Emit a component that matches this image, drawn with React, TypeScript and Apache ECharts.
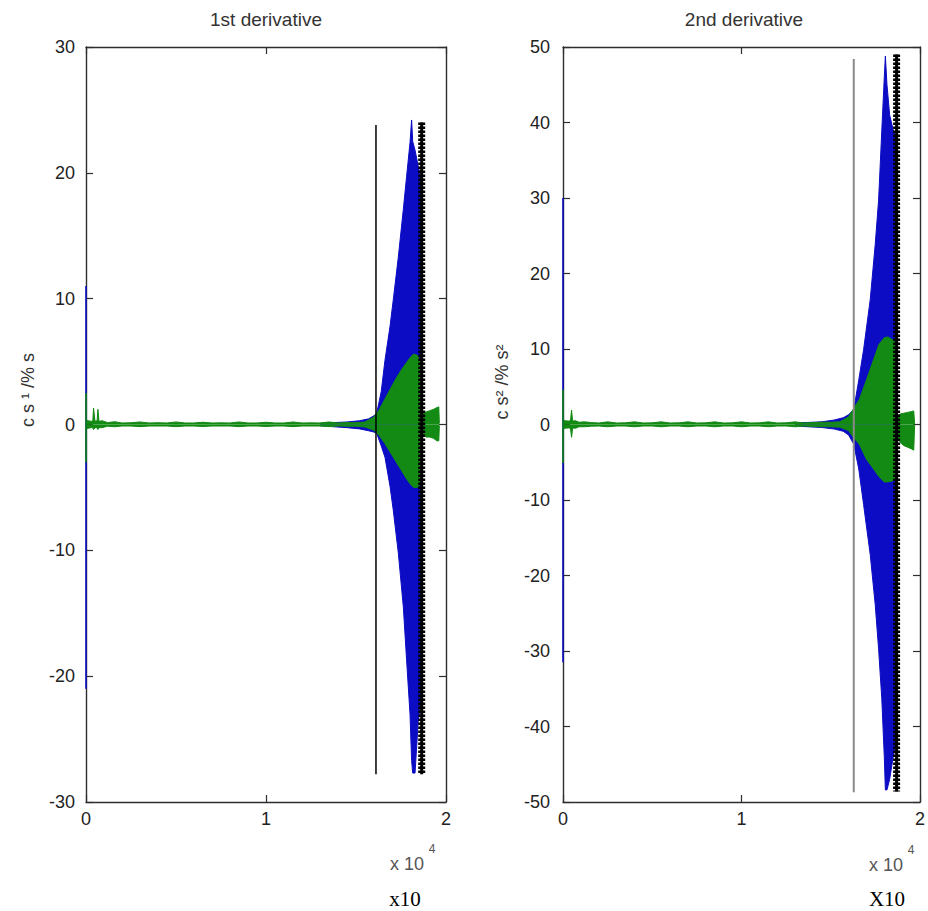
import { useEffect, useRef } from "react";
import * as echarts from "echarts";

// ---------- axes ----------
const xTickValues = [0, 1, 2];
const leftYRange = [-30, 30];
const rightYRange = [-50, 50];
const yInterval = 10;

// ---------- titles / labels ----------
const titles = ["1st derivative", "2nd derivative"];
const yNames = ["c s \u00b9 /% s", "c s\u00b2 /% s\u00b2"];
const expLabels = ["x 10", "x 10"];
const expPowers = ["4", "4"];
const bottomLabels = ["x10", "X10"];

// ---------- 1st derivative (x in units of 10^4) ----------
const blueX1 = [1.30, 1.45, 1.52, 1.57, 1.60, 1.615, 1.64, 1.661, 1.689, 1.707, 1.735, 1.763, 1.781, 1.80, 1.809, 1.815, 1.828, 1.846, 1.862];
const blueUp1 = [0.1, 0.2, 0.3, 0.45, 0.7, 0.9, 2.6, 5.1, 7.8, 9.9, 13.3, 17.1, 19.7, 22.4, 24.2, 22.5, 21.8, 20.5, 19.5];
const blueLo1 = [-0.1, -0.25, -0.35, -0.5, -0.6, -0.7, -1.7, -2.6, -4.9, -6.8, -10.2, -14.5, -18.7, -23.0, -26.7, -27.7, -27.7, -23.5, -22.0];

const greenX1 = [0.000, 0.010, 0.030, 0.038, 0.042, 0.050, 0.062, 0.066, 0.072, 0.09,
  0.12, 0.16, 0.20, 0.25, 0.30, 0.35, 0.40, 0.45, 0.50, 0.55,
  0.60, 0.65, 0.70, 0.75, 0.80, 0.85, 0.90, 0.95, 1.00, 1.05,
  1.10, 1.15, 1.20, 1.25, 1.30, 1.35, 1.40, 1.45, 1.50, 1.55,
  1.60, 1.63, 1.66, 1.69, 1.72, 1.75, 1.78, 1.80, 1.82, 1.84,
  1.855, 1.862, 1.868, 1.89, 1.91, 1.93, 1.95, 1.96, 1.963];
const greenUp1 = [0.4, 0.3, 0.25, 0.3, 1.3, 0.25, 0.3, 1.2, 0.25, 0.3,
  0.15, 0.22, 0.12, 0.14, 0.2, 0.12, 0.14, 0.12, 0.2, 0.12,
  0.12, 0.18, 0.12, 0.13, 0.12, 0.2, 0.12, 0.12, 0.18, 0.12,
  0.12, 0.2, 0.12, 0.13, 0.12, 0.2, 0.12, 0.15, 0.14, 0.2,
  0.6, 1.2, 2.0, 2.8, 3.6, 4.3, 4.9, 5.3, 5.6, 5.5,
  5.1, 0.6, 0.9, 1.0, 1.1, 1.2, 1.35, 1.4, 0.1];
const greenLo1 = [-0.4, -0.3, -0.25, -0.25, -0.4, -0.25, -0.25, -0.4, -0.25, -0.25,
  -0.13, -0.18, -0.12, -0.12, -0.17, -0.12, -0.12, -0.12, -0.17, -0.12,
  -0.12, -0.16, -0.12, -0.12, -0.12, -0.17, -0.12, -0.12, -0.16, -0.12,
  -0.12, -0.17, -0.12, -0.12, -0.12, -0.17, -0.12, -0.14, -0.14, -0.2,
  -0.45, -0.9, -1.5, -2.2, -2.9, -3.6, -4.3, -4.7, -5.0, -5.0,
  -4.8, -0.5, -0.8, -1.0, -1.0, -1.1, -1.3, -1.3, -0.1];

const spikeBlue1 = [11, -21];
const spikeGreen1 = [2.5, -3];
const vline1 = { x: 1.611, y: [23.8, -27.8] };
const markers1 = { x: 1.865, y: [24, -27.8] };

// ---------- 2nd derivative ----------
const blueX2 = [1.30, 1.45, 1.52, 1.57, 1.60, 1.629, 1.657, 1.684, 1.721, 1.749, 1.768, 1.786, 1.80, 1.806, 1.815, 1.83, 1.85, 1.868];
const blueUp2 = [0.2, 0.35, 0.6, 0.9, 1.3, 2.0, 5.9, 9.9, 16.5, 23.8, 29.7, 38.9, 46.0, 48.8, 45.0, 41.0, 39.0, 38.0];
const blueLo2 = [-0.2, -0.4, -0.6, -0.9, -1.4, -2.6, -5.9, -10.6, -17.2, -23.8, -29.7, -36.3, -44.0, -48.4, -48.4, -47.0, -44.0, -42.0];

const greenX2 = [0.000, 0.010, 0.030, 0.042, 0.048, 0.054, 0.07, 0.09, 0.12, 0.16,
  0.20, 0.25, 0.30, 0.35, 0.40, 0.45, 0.50, 0.55, 0.60, 0.65,
  0.70, 0.75, 0.80, 0.85, 0.90, 0.95, 1.00, 1.05, 1.10, 1.15,
  1.20, 1.25, 1.30, 1.35, 1.40, 1.45, 1.50, 1.55,
  1.60, 1.63, 1.66, 1.70, 1.74, 1.77, 1.80, 1.82, 1.84, 1.86,
  1.872, 1.878, 1.89, 1.91, 1.93, 1.95, 1.965, 1.97];
const greenUp2 = [0.7, 0.5, 0.45, 0.5, 1.9, 0.45, 0.5, 0.3, 0.35, 0.25,
  0.2, 0.35, 0.2, 0.22, 0.35, 0.2, 0.22, 0.35, 0.2, 0.22,
  0.35, 0.2, 0.22, 0.35, 0.2, 0.22, 0.35, 0.2, 0.22, 0.35,
  0.2, 0.22, 0.35, 0.2, 0.25, 0.3, 0.3, 0.35,
  1.0, 2.2, 3.3, 5.9, 8.6, 10.6, 11.5, 11.6, 11.3, 11.0,
  0.8, 1.2, 1.4, 1.5, 1.6, 1.7, 1.8, 0.1];
const greenLo2 = [-0.7, -0.5, -0.45, -0.5, -1.7, -0.45, -0.5, -0.3, -0.3, -0.22,
  -0.2, -0.3, -0.2, -0.2, -0.3, -0.2, -0.2, -0.3, -0.2, -0.2,
  -0.3, -0.2, -0.2, -0.3, -0.2, -0.2, -0.3, -0.2, -0.2, -0.3,
  -0.2, -0.2, -0.3, -0.2, -0.25, -0.3, -0.3, -0.35,
  -0.8, -1.8, -2.6, -4.6, -5.9, -6.9, -7.6, -7.6, -7.5, -7.3,
  -1.0, -1.8, -2.4, -2.8, -3.0, -3.2, -3.4, -0.1];

const spikeBlue2 = [30, -31.5];
const spikeGreen2 = [4.6, -5.1];
const vline2 = { x: 1.629, y: [48.4, -48.7] };
const markers2 = { x: 1.869, y: [49, -48.6] };

// ---------- styles ----------
const BLUE = "#0c0cc4";
const GREEN = "#138a13";
const AXIS = "#2e2e2e";
const FONT = "Liberation Sans, Arial, sans-serif";

function pairs(xs: number[], ys: number[]) {
  return xs.map((x, i) => [x, ys[i]]);
}

function band(xs: number[], ys: number[], color: string, ax: number, z: number) {
  return {
    type: "line",
    xAxisIndex: ax,
    yAxisIndex: ax,
    data: pairs(xs, ys),
    symbol: "none",
    showSymbol: false,
    lineStyle: { color, width: 1 },
    areaStyle: { color, opacity: 1 },
    z,
    silent: true,
  };
}

function vseg(x: number, ys: number[], color: string, width: number, ax: number, z: number, type: any = "solid") {
  return {
    type: "line",
    xAxisIndex: ax,
    yAxisIndex: ax,
    data: [[x, ys[0]], [x, ys[1]]],
    symbol: "none",
    showSymbol: false,
    clip: false,
    lineStyle: { color, width, type, cap: "butt" },
    z,
    silent: true,
  };
}

function xAx(grid: number, position: string, showLabel: boolean) {
  return {
    type: "value",
    gridIndex: grid,
    position,
    min: xTickValues[0],
    max: xTickValues[xTickValues.length - 1],
    interval: 1,
    axisLine: { show: true, onZero: false, lineStyle: { color: AXIS, width: 1.4 } },
    axisTick: { show: true, inside: true, length: 7, lineStyle: { color: AXIS, width: 1.2 } },
    axisLabel: { show: showLabel, fontSize: 18, color: "#222", margin: 8, fontFamily: FONT },
    splitLine: { show: false },
  };
}

function yAx(grid: number, position: string, range: number[], showLabel: boolean, margin: number) {
  return {
    type: "value",
    gridIndex: grid,
    position,
    min: range[0],
    max: range[1],
    interval: yInterval,
    axisLine: { show: true, onZero: false, lineStyle: { color: AXIS, width: 1.4 } },
    axisTick: { show: true, inside: true, length: 7, lineStyle: { color: AXIS, width: 1.2 } },
    axisLabel: { show: showLabel, fontSize: 18, color: "#222", margin, fontFamily: FONT },
    splitLine: { show: false },
  };
}

export default function App() {
  const ref = useRef<HTMLDivElement>(null);

  useEffect(() => {
    if (!ref.current) return;
    document.body.style.margin = "0";
    const chart = echarts.init(ref.current, null, { renderer: "svg" });

    const option: any = {
      animation: false,
      backgroundColor: "#ffffff",
      grid: [
        { left: 86, right: 482, top: 47, bottom: 109 },
        { left: 563, right: 4, top: 47, bottom: 109 },
      ],
      xAxis: [
        xAx(0, "bottom", true),
        xAx(0, "top", false),
        xAx(1, "bottom", true),
        xAx(1, "top", false),
      ],
      yAxis: [
        yAx(0, "left", leftYRange, true, 11),
        yAx(0, "right", leftYRange, false, 8),
        yAx(1, "left", rightYRange, true, 13),
        yAx(1, "right", rightYRange, false, 8),
      ],
      series: [
        // left chart (axes 0)
        band(blueX1, blueUp1, BLUE, 0, 2),
        band(blueX1, blueLo1, BLUE, 0, 2),
        band(greenX1, greenUp1, GREEN, 0, 3),
        band(greenX1, greenLo1, GREEN, 0, 3),
        vseg(0, spikeBlue1, BLUE, 1.6, 0, 4),
        vseg(0, spikeGreen1, GREEN, 1.6, 0, 5),
        vseg(vline1.x, vline1.y, "#000000", 1.5, 0, 6),
        vseg(markers1.x, markers1.y, "#000000", 3, 0, 7),
        vseg(markers1.x, markers1.y, "#000000", 7, 0, 7, [2.5, 1.5]),
        // right chart (axes 2)
        band(blueX2, blueUp2, BLUE, 2, 2),
        band(blueX2, blueLo2, BLUE, 2, 2),
        band(greenX2, greenUp2, GREEN, 2, 3),
        band(greenX2, greenLo2, GREEN, 2, 3),
        vseg(0, spikeBlue2, BLUE, 1.6, 2, 4),
        vseg(0, spikeGreen2, GREEN, 1.6, 2, 5),
        vseg(vline2.x, vline2.y, "#8a8a8a", 2, 2, 6),
        vseg(markers2.x, markers2.y, "#000000", 3, 2, 7),
        vseg(markers2.x, markers2.y, "#000000", 7, 2, 7, [2.5, 1.5]),
      ],
      graphic: [
        { type: "text", x: 266, y: 19, style: { text: titles[0], font: `19px ${FONT}`, fill: "#333", textAlign: "center", textVerticalAlign: "middle" } },
        { type: "text", x: 744, y: 19, style: { text: titles[1], font: `19px ${FONT}`, fill: "#333", textAlign: "center", textVerticalAlign: "middle" } },
        { type: "text", x: 28, y: 390, rotation: Math.PI / 2, style: { text: yNames[0], font: `18px ${FONT}`, fill: "#333", textAlign: "center", textVerticalAlign: "middle" } },
        { type: "text", x: 502, y: 382, rotation: Math.PI / 2, style: { text: yNames[1], font: `18px ${FONT}`, fill: "#333", textAlign: "center", textVerticalAlign: "middle" } },
        { type: "text", x: 407, y: 864, style: { text: expLabels[0], font: `18px ${FONT}`, fill: "#555", textAlign: "center", textVerticalAlign: "middle" } },
        { type: "text", x: 432, y: 849, style: { text: expPowers[0], font: `12px ${FONT}`, fill: "#555", textAlign: "center", textVerticalAlign: "middle" } },
        { type: "text", x: 886, y: 865, style: { text: expLabels[1], font: `18px ${FONT}`, fill: "#555", textAlign: "center", textVerticalAlign: "middle" } },
        { type: "text", x: 911, y: 850, style: { text: expPowers[1], font: `12px ${FONT}`, fill: "#555", textAlign: "center", textVerticalAlign: "middle" } },
        { type: "text", x: 405, y: 899, style: { text: bottomLabels[0], font: `21px Liberation Serif, Times New Roman, serif`, fill: "#000", textAlign: "center", textVerticalAlign: "middle" } },
        { type: "text", x: 887, y: 899, style: { text: bottomLabels[1], font: `21px Liberation Serif, Times New Roman, serif`, fill: "#000", textAlign: "center", textVerticalAlign: "middle" } },
      ],
    };

    chart.setOption(option);
    return () => {
      chart.dispose();
    };
  }, []);

  return (
    <div
      ref={ref}
      style={{ position: "fixed", left: 0, top: 0, width: 928, height: 911, background: "#fff" }}
    />
  );
}
